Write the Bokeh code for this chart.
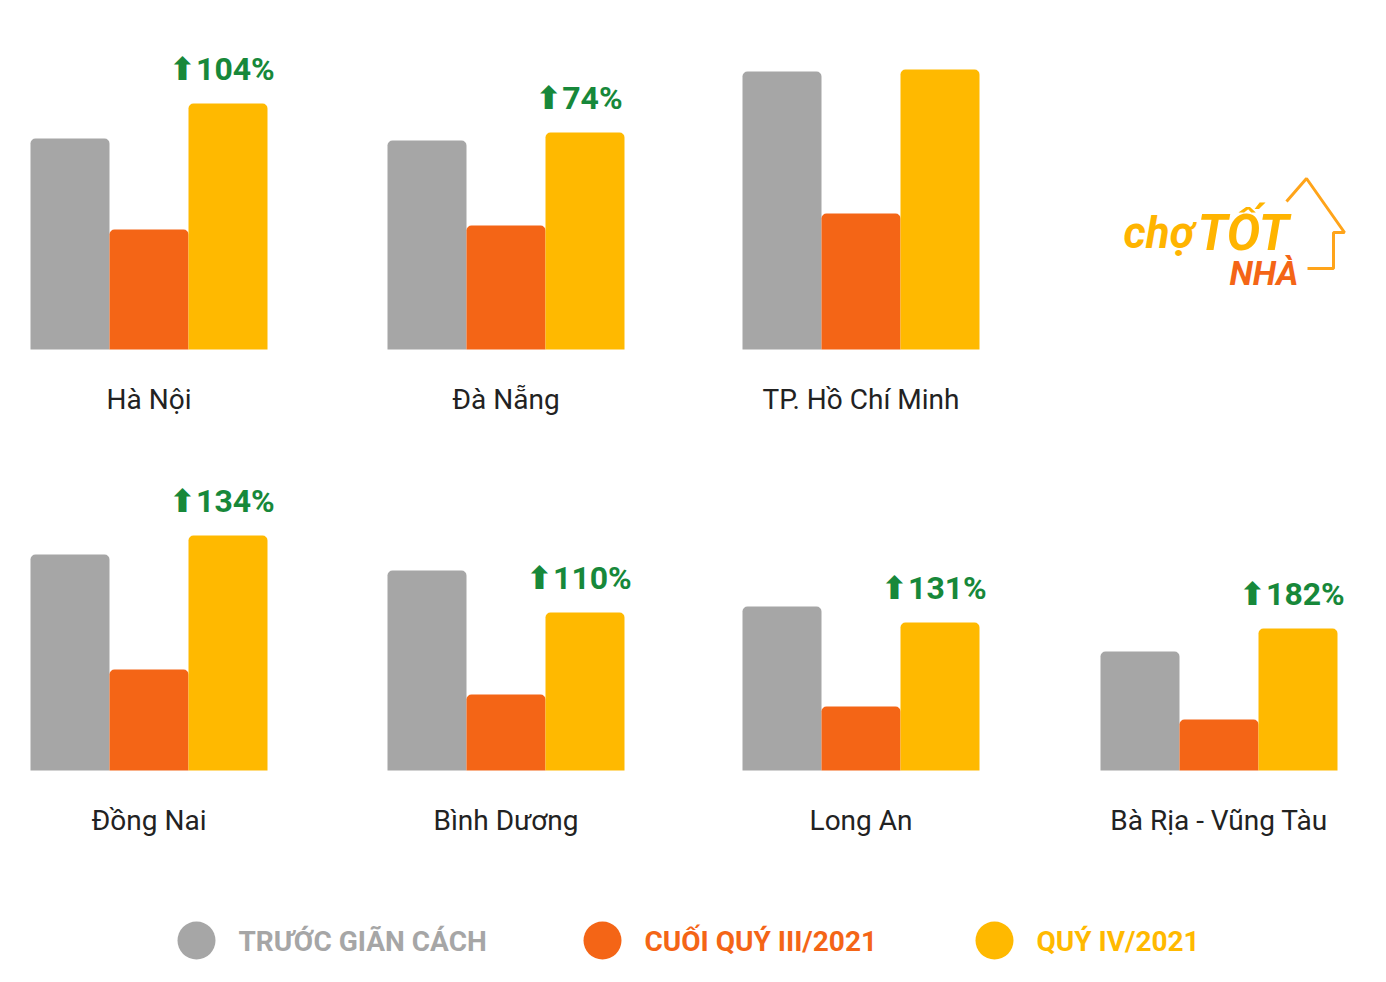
from bokeh.plotting import figure
from bokeh.layouts import column, row
from bokeh.models import Range1d, ColumnDataSource
from bokeh.embed import file_html
from bokeh.resources import INLINE
from bokeh.core.properties import value

# ---------------- data (arbitrary units) ----------------
regions = ["Hà Nội", "Đà Nẵng", "TP. Hồ Chí Minh",
           "Đồng Nai", "Bình Dương", "Long An", "Bà Rịa - Vũng Tàu"]
series = ["TRƯỚC GIÃN CÁCH", "CUỐI QUÝ III/2021", "QUÝ IV/2021"]
truoc_gian_cach = [211, 209, 278, 216, 200, 164, 119]
cuoi_quy_3 = [120, 124, 136, 101, 76, 64, 51]
quy_4 = [246, 217, 280, 235, 158, 148, 142]
growth = ["104%", "74%", None, "134%", "110%", "131%", "182%"]

# ---------------- styles / layout ----------------
colors = ["#A6A6A6", "#F46516", "#FFB900"]
green = "#17883A"
font = value("Roboto, DejaVu Sans")
UNIT = 79          # px per bar
LEFT_PAD = 30      # px before first bar in each panel
col_widths = [357, 355, 358, 316]
row_heights = [440, 430]
row_base = [349, 330]   # px from top of panel to bar baseline


def blank(w, h):
    p = figure(width=w, height=h, output_backend="svg", toolbar_location=None,
               tools="", min_border=0, x_axis_location=None, y_axis_location=None)
    p.grid.visible = False
    p.outline_line_color = None
    p.background_fill_color = "white"
    p.border_fill_color = "white"
    return p


def group_panel(i, w, r):
    h = row_heights[r]
    base = row_base[r]
    p = blank(w, h)
    x0 = -0.5 - LEFT_PAD / UNIT
    p.x_range = Range1d(x0, x0 + w / UNIT)
    p.y_range = Range1d(-(h - base), base)
    vals = [truoc_gian_cach[i], cuoi_quy_3[i], quy_4[i]]
    src = ColumnDataSource(dict(x=[0, 1, 2], top=vals, color=colors, name=series))
    p.vbar(x="x", top="top", bottom=0, width=1.0, fill_color="color",
           line_color=None, border_radius=(5, 5, 0, 0), source=src)
    p.text(x=[1], y=[0], text=[regions[i]], text_font=font, text_font_size="28px",
           text_color="#222222", text_align="center", text_baseline="alphabetic",
           y_offset=50)
    if growth[i]:
        p.text(x=[2], y=[quy_4[i]], text=["\u2B06" + growth[i]], text_font=font,
               text_font_size="32px", text_font_style="bold", text_color=green,
               text_align="center", text_baseline="alphabetic", x_offset=-6, y_offset=-35)
    return p


def logo_panel(w, h):
    p = blank(w, h)
    p.x_range = Range1d(0, w)
    p.y_range = Range1d(h, 0)
    p.text(x=[53], y=[232], text=["chợ"], text_font=font, text_font_size="44px",
           text_font_style="bold italic", text_color="#FFB400", text_baseline="alphabetic")
    p.text(x=[127], y=[232], text=["TỐT"], text_font=font, text_font_size="50px",
           text_font_style="bold italic", text_color="#FFB400", text_baseline="alphabetic")
    p.text(x=[228], y=[272], text=["NHÀ"], text_font=font, text_font_size="34px",
           text_font_style="bold italic", text_color="#F46516", text_align="right",
           text_baseline="alphabetic")
    p.line(x=[216, 236, 274, 263, 263, 237], y=[201, 178, 232, 232, 268, 268],
           line_color="#FFA41A", line_width=3)
    return p


def legend_panel(w, h):
    p = blank(w, h)
    p.x_range = Range1d(0, w)
    p.y_range = Range1d(h, 0)
    dot_x = [196, 602, 994]
    p.scatter(x=dot_x, y=[70] * 3, size=38, marker="circle", fill_color=colors, line_color=None)
    p.text(x=[x + 42 for x in dot_x], y=[71] * 3, text=series, text_font=font,
           text_font_size="28px", text_font_style="bold", text_color=colors,
           text_baseline="middle")
    return p


row1 = [group_panel(i, col_widths[i], 0) for i in range(3)]
row1.append(logo_panel(col_widths[3], row_heights[0]))
row2 = [group_panel(3 + i, col_widths[i], 1) for i in range(4)]
legend = legend_panel(1386, 982 - sum(row_heights))

layout = column(row(*row1), row(*row2), legend)
open("out.html", "w").write(file_html(layout, INLINE))
